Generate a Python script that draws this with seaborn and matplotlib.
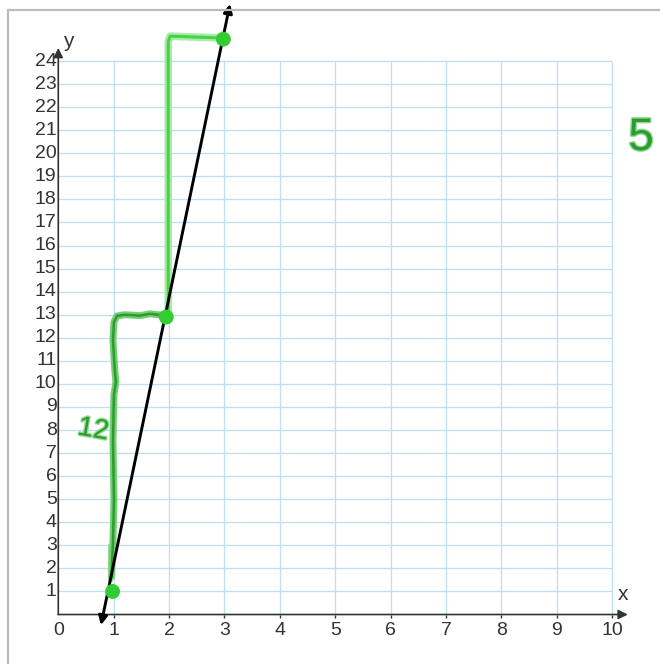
import matplotlib
matplotlib.use("Agg")
import matplotlib.pyplot as plt
import matplotlib.patheffects as pe
from matplotlib.lines import Line2D
import seaborn as sns
import pandas as pd

# --- Data ---
x_ticks = [0, 1, 2, 3, 4, 5, 6, 7, 8, 9, 10]
y_ticks = list(range(1, 25))

# plotted points (slightly off the grid, as drawn)
pts_x = [0.98, 1.95, 2.98]
pts_y = [1.0, 12.9, 24.95]

# black line through the points, arrow ends
line_x = [0.77, 3.10]
line_y = [-0.46, 26.48]

# green "rise" strokes (hand drawn)
rise_lo_x = [0.96, 0.987, 1.005, 0.996, 0.987, 1.005, 1.04, 1.02, 0.987, 1.005, 1.06, 1.20, 1.475, 1.655, 1.93]
rise_lo_y = [1.63, 3.10, 4.97, 6.27, 7.57, 9.52, 10.1, 10.6, 11.9, 12.69, 12.95, 13.0, 12.96, 13.04, 12.96]
start_x = [0.933, 0.933]
start_y = [1.5, 3.0]
rise_hi_x = [1.985, 1.985, 2.02, 2.98]
rise_hi_y = [13.1, 24.85, 25.08, 25.0]

sns.set_style("white")
plt.rcParams['font.family'] = ['Liberation Sans', 'DejaVu Sans']

fig = plt.figure(figsize=(6.6, 6.64), dpi=100)
ax = fig.add_axes([0, 0, 1, 1])
ax.set_xlim(-1.052, 10.861)
ax.set_ylim(-2.146, 26.648)
ax.axis('off')

# --- grid ---
grid_c = '#bcdff7'
ax.vlines(x_ticks[1:], 0, 24, color=grid_c, lw=0.9, zorder=1)
ax.hlines(y_ticks, 0, 10, color=grid_c, lw=0.9, zorder=1)

# --- axes with arrows ---
axis_c = '#333333'
ax.annotate('', xy=(10.28, 0), xytext=(0, 0),
            arrowprops=dict(arrowstyle='-|>', color=axis_c, lw=1.2, mutation_scale=14, shrinkA=0, shrinkB=0), zorder=3)
ax.annotate('', xy=(0, 24.57), xytext=(0, 0),
            arrowprops=dict(arrowstyle='-|>', color=axis_c, lw=1.2, mutation_scale=14, shrinkA=0, shrinkB=0), zorder=3)
ax.vlines(x_ticks[1:], -0.15, 0, color=axis_c, lw=1.0, zorder=3)

for t in x_ticks:
    ax.text(t, -0.68, str(t), ha='center', va='center', fontsize=14, color=axis_c)
for t in y_ticks:
    ax.text(-0.03, t, str(t), ha='right', va='center', fontsize=14, color=axis_c)
ax.text(10.2, 0.88, 'x', ha='center', va='center', fontsize=15, color=axis_c)
ax.text(0.175, 24.85, 'y', ha='center', va='center', fontsize=15, color=axis_c)

# --- green hand-drawn strokes ---
hi = pd.DataFrame({'x': rise_hi_x, 'y': rise_hi_y})
lo = pd.DataFrame({'x': rise_lo_x, 'y': rise_lo_y})
st = pd.DataFrame({'x': start_x, 'y': start_y})
sns.lineplot(data=hi, x='x', y='y', sort=False, estimator=None, ax=ax, color='#45d445', lw=2.2,
             path_effects=[pe.Stroke(linewidth=5.5, foreground='#abeaab'), pe.Normal()], zorder=4)
sns.lineplot(data=st, x='x', y='y', sort=False, estimator=None, ax=ax, color='#8fe08f', lw=3.5, zorder=4)
sns.lineplot(data=lo, x='x', y='y', sort=False, estimator=None, ax=ax, color='#2f9a2f', lw=1.8,
             path_effects=[pe.Stroke(linewidth=5, foreground='#72d072'), pe.Normal()], zorder=4)

# --- black line with arrows both ends ---
ax.annotate('', xy=(line_x[1], line_y[1]), xytext=(line_x[0], line_y[0]),
            arrowprops=dict(arrowstyle='<|-|>', color='black', lw=2.1, mutation_scale=13, shrinkA=0, shrinkB=0), zorder=5)

# --- points ---
pts = pd.DataFrame({'x': pts_x, 'y': pts_y})
sns.scatterplot(data=pts, x='x', y='y', ax=ax, s=115, color='#33cc33', edgecolor='none', zorder=6)

# --- handwritten notes ---
green_fx = [pe.Stroke(linewidth=2.0, foreground='#8fdc8f'), pe.Normal()]
ax.text(0.63, 8.0, '12', ha='center', va='center', fontsize=20, rotation=-10, color='#2f9a2f',
        path_effects=green_fx, zorder=4)
ax.text(10.29, 20.66, '5', ha='left', va='center', fontsize=33, color='#2f9a2f',
        path_effects=green_fx, zorder=4)

# --- outer frame ---
fig.add_artist(Line2D([8 / 660, 8 / 660], [0, 1 - 10 / 664], color='#bbbbbb', lw=1.6))
fig.add_artist(Line2D([8 / 660, 1], [1 - 10 / 664, 1 - 10 / 664], color='#bbbbbb', lw=1.6))

fig.savefig('out.png', dpi=100)
plt.close(fig)
